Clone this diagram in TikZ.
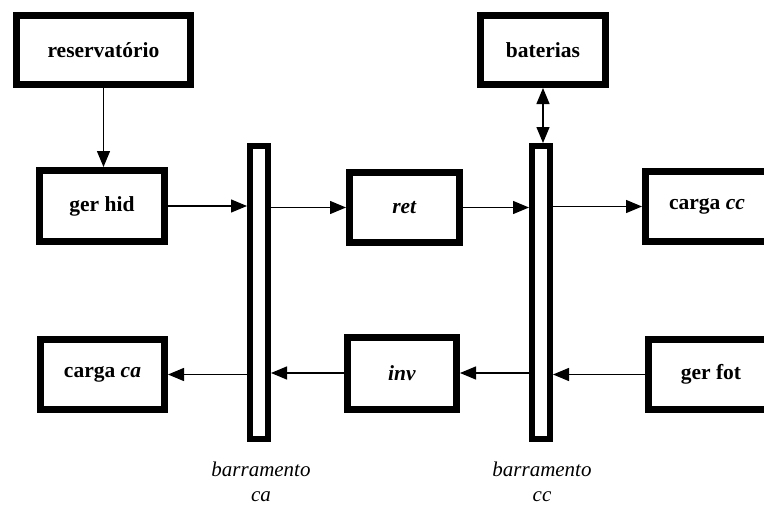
\documentclass[tikz,border=0pt]{standalone}
\usepackage{fontspec}
\setmainfont{Liberation Serif}
\usetikzlibrary{arrows.meta}
\tikzset{
  blk/.style={draw, line width=7pt, inner sep=0pt, font=\fontsize{21.5}{24}\selectfont\bfseries, align=center},
  bus/.style={draw, line width=6pt, inner sep=0pt, minimum width=18pt, minimum height=293pt},
  arr/.style={line width=1.3pt, -{Triangle[length=16pt,width=13pt]}},
  darr/.style={line width=1.3pt, {Triangle[length=16pt,width=13pt]}-{Triangle[length=16pt,width=13pt]}},
  lbl/.style={font=\fontsize{21}{25}\selectfont\itshape, align=center, inner sep=0pt}
}
\begin{document}
\begin{tikzpicture}[x=1pt,y=-1pt]
\useasboundingbox (0,0) rectangle (764,506);
\node[blk, minimum width=174pt, minimum height=69pt] (res) at (103.5,50) {reservatório};
\node[blk, minimum width=125pt, minimum height=71pt] (gerhid) at (102,206) {ger hid};
\node[bus] (busca) at (259,292.5) {};
\node[blk, minimum width=110pt, minimum height=70pt] (ret) at (404.5,207.5) {\textit{ret}};
\node[bus] (buscc) at (541,292.5) {};
\node[blk, minimum width=125pt, minimum height=69pt] (bat) at (543,50) {baterias};
\node[blk, minimum width=123pt, minimum height=70pt] (cargacc) at (707,206.5) {carga \textit{cc}};
\node[blk, minimum width=126pt, minimum height=70pt] (gerfot) at (711,374.5) {ger fot};
\node[blk, minimum width=109pt, minimum height=72pt] (inv) at (402,373) {\textit{inv}};
\node[blk, minimum width=124pt, minimum height=70pt] (cargaca) at (102.5,374.5) {carga \textit{ca}};
\node[lbl] (lblca) at (261,482) {barramento\\ca};
\node[lbl] (lblcc) at (542,482) {barramento\\cc};
% connectors
\draw[arr] (res.south) -- (gerhid.north -| res.south);
\draw[arr] (gerhid.east) -- (gerhid.east -| busca.west);
\draw[arr] (busca.east |- ret.west) -- (ret.west);
\draw[arr] (ret.east) -- (ret.east -| buscc.west);
\draw[arr] (buscc.east |- cargacc.west) -- (cargacc.west);
\draw[darr] (bat.south) -- (bat.south |- buscc.north);
\draw[arr] (gerfot.west) -- (gerfot.west -| buscc.east);
\draw[arr] (buscc.west |- inv.east) -- (inv.east);
\draw[arr] (inv.west) -- (inv.west -| busca.east);
\draw[arr] (busca.west |- cargaca.east) -- (cargaca.east);
\end{tikzpicture}
\end{document}
